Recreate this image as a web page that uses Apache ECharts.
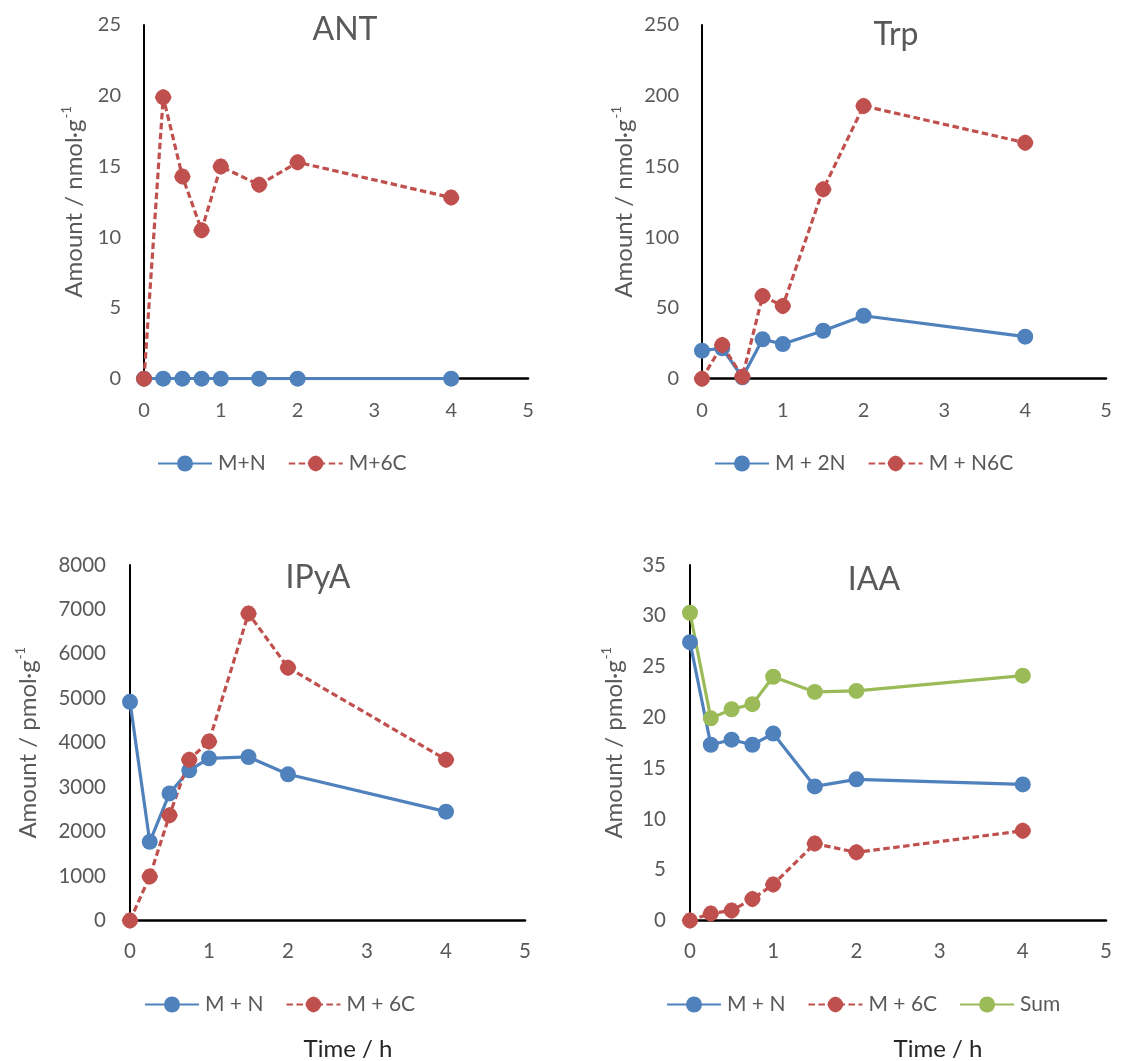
<!DOCTYPE html>
<html>
<head>
<meta charset="utf-8">
<script src="https://cdn.jsdelivr.net/npm/echarts@6/dist/echarts.min.js"></script>
<style>
html,body{margin:0;padding:0;background:#fff;}
#c{width:1125px;height:1061px;}
</style>
</head>
<body>
<div id="c"></div>
<script>
// ---- data ----
var timeH = [0, 0.25, 0.5, 0.75, 1, 1.5, 2, 4];
var xTicks = [0, 1, 2, 3, 4, 5];

var antMN  = [0, 0, 0, 0, 0, 0, 0, 0];
var antM6C = [0, 19.9, 14.3, 10.5, 15.0, 13.7, 15.3, 12.8];

var trpM2N  = [19.8, 21.5, 1.0, 27.8, 24.5, 33.9, 44.5, 29.7];
var trpMN6C = [0, 23.8, 1.4, 58.5, 51.4, 133.9, 192.8, 166.8];

var ipyaMN  = [4920, 1770, 2860, 3380, 3650, 3680, 3290, 2450];
var ipyaM6C = [0, 990, 2370, 3620, 4030, 6910, 5690, 3620];

var iaaMN  = [27.4, 17.3, 17.8, 17.3, 18.4, 13.2, 13.9, 13.4];
var iaaM6C = [0, 0.68, 0.99, 2.11, 3.54, 7.57, 6.71, 8.83];
var iaaSum = [30.3, 19.9, 20.8, 21.3, 24.0, 22.5, 22.6, 24.1];

var titles = ['ANT', 'Trp', 'IPyA', 'IAA'];
var yMax = [25, 250, 8000, 35];
var yInterval = [5, 50, 1000, 5];

// ---- style ----
var FONT = 'Lato, "Open Sans", sans-serif';
var GRAY = '#595959';
var BLUE = '#4F81BD', RED = '#C0504D', GREEN = '#9BBB59';
var RED_SYMBOL = 'path://M0,-10 Q8.3,-8.3 10,0 Q8.3,8.3 0,10 Q-8.3,8.3 -10,0 Q-8.3,-8.3 0,-10 Z';

function pairs(ys) { return timeH.map(function (t, i) { return [t, ys[i]]; }); }

var grids = [
  {left: 144, top: 25, width: 384, height: 353.7},
  {left: 702, top: 25, width: 404, height: 353.7},
  {left: 130, top: 565, width: 395, height: 355.5},
  {left: 690, top: 565, width: 416, height: 355.5}
];
var tickFont = [20, 20, 20.5, 20.5];
var xMargin = [22, 22, 20, 20];
var yMargin = [23, 23, 24, 24];
var nameGap = [56, 64, 88, 62];
var units = ['nmol·g', 'nmol·g', 'pmol·g', 'pmol·g'];

var xAxes = grids.map(function (g, i) {
  return {
    gridIndex: i, type: 'value', min: xTicks[0], max: xTicks[xTicks.length - 1], interval: 1,
    axisLine: {show: true, onZero: false, lineStyle: {color: '#000', width: 2.5}},
    axisTick: {show: false}, splitLine: {show: false},
    axisLabel: {color: GRAY, fontSize: tickFont[i], fontFamily: FONT, margin: xMargin[i]}
  };
});
var yAxes = grids.map(function (g, i) {
  return {
    gridIndex: i, type: 'value', min: 0, max: yMax[i], interval: yInterval[i],
    axisLine: {show: true, lineStyle: {color: '#000', width: 2}},
    axisTick: {show: false}, splitLine: {show: false},
    axisLabel: {color: GRAY, fontSize: tickFont[i], fontFamily: FONT, margin: yMargin[i],
      formatter: function (v) { return String(v); }},
    name: '{a|Amount / ' + units[i] + '}{s|-1}',
    nameLocation: 'middle', nameGap: nameGap[i],
    nameTextStyle: {
      color: GRAY, fontFamily: FONT, fontSize: 24,
      rich: {
        a: {color: GRAY, fontFamily: FONT, fontSize: 24, lineHeight: 28},
        s: {color: GRAY, fontFamily: FONT, fontSize: 13, verticalAlign: 'top', lineHeight: 28, padding: [0, 0, 0, 1]}
      }
    }
  };
});

function mkSeries(name, data, idx, kind) {
  var color = kind === 'red' ? RED : (kind === 'green' ? GREEN : BLUE);
  return {
    type: 'line', name: name, xAxisIndex: idx, yAxisIndex: idx,
    data: pairs(data),
    symbol: kind === 'red' ? RED_SYMBOL : 'circle',
    symbolSize: kind === 'red' ? 16.5 : 16,
    showAllSymbol: true,
    itemStyle: {color: color},
    lineStyle: {color: color, width: 3.2, type: kind === 'red' ? [6.5, 3.5] : 'solid'},
    emphasis: {disabled: true},
    animation: false
  };
}

var series = [
  mkSeries('M+N', antMN, 0, 'blue'),
  mkSeries('M+6C', antM6C, 0, 'red'),
  mkSeries('M + 2N', trpM2N, 1, 'blue'),
  mkSeries('M + N6C', trpMN6C, 1, 'red'),
  mkSeries('M + N', ipyaMN, 2, 'blue'),
  mkSeries('M + 6C', ipyaM6C, 2, 'red'),
  mkSeries('M + N', iaaMN, 3, 'blue'),
  mkSeries('M + 6C', iaaM6C, 3, 'red'),
  mkSeries('Sum', iaaSum, 3, 'green')
];

function mkLegend(left, top, names) {
  return {
    left: left, top: top, data: names, itemWidth: 54, itemHeight: 20, itemGap: 22, padding: 0,
    textStyle: {color: GRAY, fontFamily: FONT, fontSize: 21, padding: [0, 0, 0, 1]},
    selectedMode: false
  };
}

var titlePos = [[345, 30], [896, 35], [318, 578], [874, 580]];
var graphics = titles.map(function (t, i) {
  return {
    type: 'text', x: titlePos[i][0], y: titlePos[i][1], silent: true,
    style: {text: t, align: 'center', verticalAlign: 'middle', fontSize: 32, fontFamily: FONT, fill: GRAY}
  };
});
[[348, 1049], [938, 1049]].forEach(function (p) {
  graphics.push({
    type: 'text', x: p[0], y: p[1], silent: true,
    style: {text: 'Time / h', align: 'center', verticalAlign: 'middle', fontSize: 24, fontFamily: FONT, fill: '#262626'}
  });
});

var chart = echarts.init(document.getElementById('c'), null, {renderer: 'canvas'});
chart.setOption({
  backgroundColor: '#fff',
  animation: false,
  grid: grids,
  xAxis: xAxes,
  yAxis: yAxes,
  legend: [
    mkLegend(157, 453, ['M+N', 'M+6C']),
    mkLegend(714, 453, ['M + 2N', 'M + N6C']),
    mkLegend(144, 994, ['M + N', 'M + 6C']),
    mkLegend(666, 994, ['M + N', 'M + 6C', 'Sum'])
  ],
  graphic: graphics,
  series: series
});
</script>
</body>
</html>
